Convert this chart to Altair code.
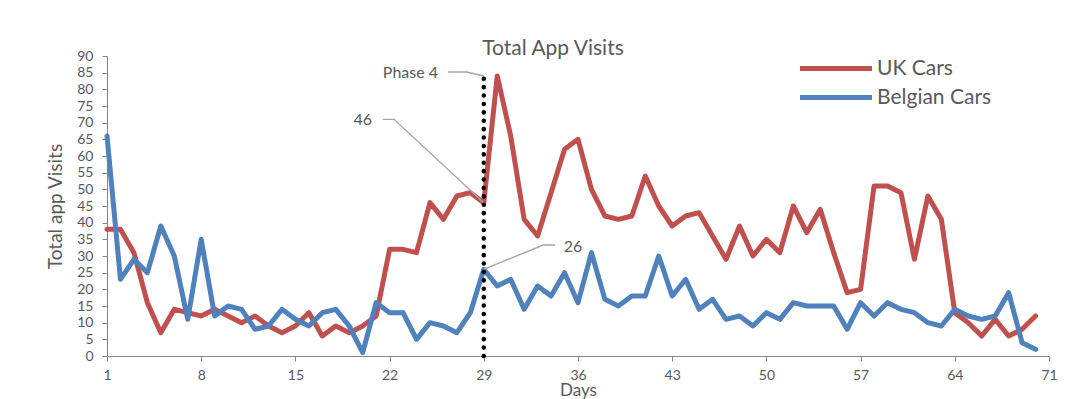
import altair as alt
import pandas as pd

# ---------------- data ----------------
days = list(range(1, 71))
uk_cars = [38, 38, 31, 16, 7, 14, 13, 12, 14, 12,
           10, 12, 9, 7, 9, 13, 6, 9, 7, 9,
           12, 32, 32, 31, 46, 41, 48, 49, 46, 84,
           66, 41, 36, 49, 62, 65, 50, 42, 41, 42,
           54, 45, 39, 42, 43, 36, 29, 39, 30, 35,
           31, 45, 37, 44, 31, 19, 20, 51, 51, 49,
           29, 48, 41, 13, 10, 6, 11, 6, 8, 12]
belgian_cars = [66, 23, 29, 25, 39, 30, 11, 35, 12, 15,
                14, 8, 9, 14, 11, 9, 13, 14, 9, 1,
                16, 13, 13, 5, 10, 9, 7, 13, 26, 21,
                23, 14, 21, 18, 25, 16, 31, 17, 15, 18,
                18, 30, 18, 23, 14, 17, 11, 12, 9, 13,
                11, 16, 15, 15, 15, 8, 16, 12, 16, 14,
                13, 10, 9, 14, 12, 11, 12, 19, 4, 2]
series_names = ["UK Cars", "Belgian Cars"]
series_colors = ["#C0504D", "#4F81BD"]
x_ticks = [1, 8, 15, 22, 29, 36, 43, 50, 57, 64, 71]
y_ticks = list(range(0, 95, 5))

phase_day = [29]
phase_bottom = [0]
phase_top = [84]

ann_labels = ["Phase 4", "46", "26"]
ann_text_day = [23.55, 20.0, 35.63]
ann_text_val = [84.8, 70.8, 32.8]

leader_id = ["Phase 4"] * 3 + ["46"] * 3 + ["26"] * 3
leader_seq = [0, 1, 2] * 3
leader_day = [26.36, 27.73, 29.0, 21.49, 22.33, 29.0, 34.29, 33.42, 29.0]
leader_val = [85.2, 85.2, 84.0, 71.0, 71.0, 46.0, 33.3, 33.3, 26.0]

# ---------------- tables ----------------
lines_df = pd.DataFrame({
    "day": days * 2,
    "value": uk_cars + belgian_cars,
    "series": [series_names[0]] * len(days) + [series_names[1]] * len(days),
})
phase_df = pd.DataFrame({"day": phase_day, "value": phase_bottom, "top": phase_top})
ann_df = pd.DataFrame({"day": ann_text_day, "value": ann_text_val, "label": ann_labels})
leader_df = pd.DataFrame({"day": leader_day, "value": leader_val, "id": leader_id, "seq": leader_seq})

FONT = "Lato"
TXT = "#595959"
AXC = "#868686"

x_enc = alt.X(
    "day:Q",
    scale=alt.Scale(domain=[1, 71], nice=False, zero=False),
    axis=alt.Axis(values=x_ticks, title="Days", labelFlush=False, labelOverlap=False,
                  titlePadding=0, labelPadding=7),
)
y_enc = alt.Y(
    "value:Q",
    scale=alt.Scale(domain=[0, 90], nice=False),
    axis=alt.Axis(values=y_ticks, title="Total app Visits", labelFlush=False,
                  labelOverlap=False, titlePadding=11),
)
color_enc = alt.Color(
    "series:N",
    scale=alt.Scale(domain=series_names, range=series_colors),
    legend=alt.Legend(
        title=None, orient="none", legendX=714.5, legendY=-2,
        symbolType="M-3,0H3", symbolSize=576, symbolStrokeWidth=5,
        labelFont=FONT, labelFontSize=21, labelColor=TXT,
        labelOffset=26.5, rowPadding=4, padding=0,
    ),
)

base = alt.Chart(lines_df)
uk_line = base.transform_filter(alt.datum.series == series_names[0]).mark_line(
    strokeWidth=5, strokeJoin="round", strokeCap="round"
).encode(x=x_enc, y=y_enc, color=color_enc)
be_line = base.transform_filter(alt.datum.series == series_names[1]).mark_line(
    strokeWidth=5, strokeJoin="round", strokeCap="round"
).encode(x=x_enc, y=y_enc, color=color_enc)

phase_rule = alt.Chart(phase_df).mark_rule(
    color="black", strokeWidth=4.5, strokeDash=[0.1, 8.3], strokeCap="round"
).encode(x=x_enc, y=y_enc, y2="top:Q")

leaders = alt.Chart(leader_df).mark_line(color="#A6A6A6", strokeWidth=1.4).encode(
    x=x_enc, y=y_enc, detail="id:N", order="seq:Q"
)

ann_text = alt.Chart(ann_df).mark_text(
    font=FONT, fontSize=16, color=TXT, align="center", baseline="middle"
).encode(x=x_enc, y=y_enc, text="label:N")

chart = alt.layer(uk_line, be_line, leaders, phase_rule, ann_text).properties(
    width=942,
    height=300,
    autosize=alt.AutoSizeParams(type="none"),
    padding={"left": 107, "top": 56, "right": 34, "bottom": 43},
    title=alt.TitleParams(
        "Total App Visits", font=FONT, fontSize=21, color=TXT, fontWeight="normal",
        anchor="middle", frame="group", offset=-27, dx=-25, baseline="alphabetic",
    ),
).configure_view(stroke=None).configure_axis(
    domainColor=AXC, domainWidth=1, tickColor=AXC, tickSize=5, tickWidth=1,
    grid=False, labelFont=FONT, labelFontSize=14, labelColor=TXT, labelPadding=8,
    titleFont=FONT, titleFontSize=19, titleColor=TXT, titleFontWeight="normal",
).configure_axisY(labelPadding=9, titleFontSize=19).configure_axisX(titleFontSize=17)

chart.save("out.html", embed_options={"renderer": "svg", "actions": False})
